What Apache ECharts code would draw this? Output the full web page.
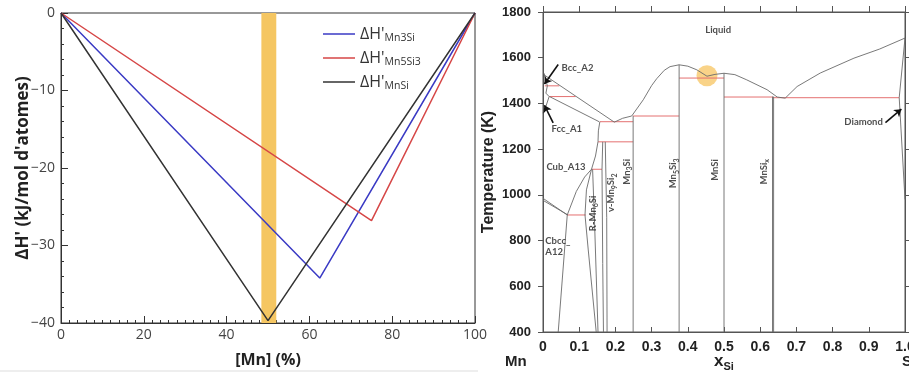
<!DOCTYPE html>
<html><head><meta charset="utf-8">
<script src="https://cdn.jsdelivr.net/npm/echarts@6/dist/echarts.min.js"></script>
<style>html,body{margin:0;padding:0;background:#fff}#c{width:909px;height:374px}</style>
</head><body><div id="c"></div>
<script>
// ---------- LEFT CHART DATA ----------
const leftSeriesNames = ['Mn3Si', 'Mn5Si3', 'MnSi'];
const mn3siPts  = [[0, 0], [62.5, -34.2], [100, 0]];
const mn5si3Pts = [[0, 0], [75, -26.8], [100, 0]];
const mnsiPts   = [[0, 0], [50, -39.7], [100, 0]];
const bandRange = [48.4, 52.0];
const leftXTicks = [0, 20, 40, 60, 80, 100];
const leftYTicks = [-40, -30, -20, -10, 0];

// ---------- RIGHT CHART DATA (x_Si, T in K) ----------
const rightXTicks = [0, 0.1, 0.2, 0.3, 0.4, 0.5, 0.6, 0.7, 0.8, 0.9, 1.0];
const rightYTicks = [400, 600, 800, 1000, 1200, 1400, 1600, 1800];

const liquidusMn   = [[0.003, 1525], [0.197, 1318]];
const solidusFcc   = [[0.018, 1430], [0.155, 1320]];
const liquidusMid  = [[0.197, 1318], [0.22, 1335], [0.245, 1345], [0.277, 1416], [0.3, 1478], [0.314, 1508], [0.335, 1545], [0.351, 1561], [0.376, 1569], [0.4, 1563], [0.425, 1547], [0.453, 1519], [0.475, 1527], [0.5, 1532], [0.53, 1526], [0.563, 1503], [0.619, 1460], [0.647, 1428], [0.669, 1423]];
const liquidusSi   = [[0.669, 1423], [0.702, 1474], [0.766, 1533], [0.859, 1598], [0.93, 1638], [1.0, 1686]];
const bccLens      = [[0.003, 1532], [0.012, 1477], [0.008, 1445], [0.017, 1430], [0.008, 1387], [0, 1357]];
const boxLeft      = [[0.157, 1320], [0.153, 1280], [0.152, 1233]];
const cubCbccA     = [[0, 985], [0.067, 912]];
const cubCbccB     = [[0, 976], [0.069, 912]];
const cbccSolvus   = [[0.042, 400], [0.067, 912]];
const cubRight     = [[0.067, 912], [0.092, 1015], [0.115, 1078], [0.134, 1112], [0.145, 1170], [0.152, 1233]];
const rLensLeft    = [[0.134, 1112], [0.12, 1022], [0.116, 912], [0.125, 759], [0.147, 400]];
const rLensRight   = [[0.137, 1112], [0.143, 850], [0.152, 400]];
const vLeft        = [[0.165, 1232], [0.163, 1112], [0.165, 700], [0.167, 400]];
const vRight       = [[0.172, 1232], [0.176, 900], [0.177, 400]];
const mn3siLine    = [[0.249, 1345], [0.249, 400]];
const mn5si3Line   = [[0.376, 1569], [0.376, 400]];
const mnsiLine     = [[0.5, 1532], [0.5, 400]];
const mnsixLineA   = [[0.634, 1430], [0.634, 400]];
const mnsixLineB   = [[0.637, 1430], [0.637, 400]];
const siSolidus    = [[1.0, 1686], [0.984, 1425], [1.0, 980]];

const redLines = [
  [[0.005, 1477], [0.045, 1477]],
  [[0.017, 1430], [0.09, 1430]],
  [[0.157, 1320], [0.249, 1320]],
  [[0.152, 1232], [0.249, 1232]],
  [[0.249, 1345], [0.376, 1345]],
  [[0.067, 912], [0.118, 912]],
  [[0.134, 1112], [0.163, 1112]],
  [[0.376, 1511], [0.5, 1511]],
  [[0.5, 1428], [0.635, 1428]],
  [[0.635, 1425], [0.984, 1425]]
];
const grayLines = [liquidusMn, solidusFcc, liquidusMid, liquidusSi, bccLens, boxLeft, cubCbccA, cubCbccB,
  cbccSolvus, cubRight, rLensLeft, rLensRight, vLeft, vRight, mn3siLine, mn5si3Line, mnsiLine,
  mnsixLineA, mnsixLineB, siSolidus];

const arrows = [
  [[0.042, 1570], [0.004, 1485]],
  [[0.028, 1315], [0.004, 1392]],
  [[0.946, 1316], [0.99, 1375]]
];
const highlightPoint = [0.453, 1521];

// [x, T, text, rotate, anchor]
const phaseLabels = [
  [0.484, 1722, 'Liquid', 0, 'c'],
  [0.05, 1556, 'Bcc_A2', 0, 'l'],
  [0.022, 1288, 'Fcc_A1', 0, 'l'],
  [0.008, 1121, 'Cub_A13', 0, 'l'],
  [0.005, 799, 'Cbcc_', 0, 'l'],
  [0.005, 750, 'A12', 0, 'l'],
  [0.831, 1320, 'Diamond', 0, 'l'],
  [0.1385, 919, 'R-Mn{s|6}Si', 90, 'c'],
  [0.189, 1009, 'v-Mn{s|9}Si{s|2}', 90, 'c'],
  [0.231, 1101, 'Mn{s|3}Si', 90, 'c'],
  [0.36, 1094, 'Mn{s|5}Si{s|3}', 90, 'c'],
  [0.4756, 1109, 'MnSi', 90, 'c'],
  [0.611, 1101, 'MnSi{s|x}', 90, 'c']
];

// ---------- BUILD ----------
const chart = echarts.init(document.getElementById('c'), null, {renderer: 'canvas', width: 909, height: 374});
const leftColors = ['#3a3ac4', '#d64646', '#333333'];
const leftData = [mn3siPts, mn5si3Pts, mnsiPts];
const TL = '#333';
const TR = '#555';
const phaseRich = {
  s: {fontSize: 7, fontFamily: 'Lato', fontWeight: 'bold', color: '#222', verticalAlign: 'bottom', lineHeight: 13}
};

const series = [];
series.push({
  type: 'line', xAxisIndex: 0, yAxisIndex: 0, data: [], z: 1, silent: true,
  markArea: {silent: true, itemStyle: {color: '#F5C662'}, data: [[{xAxis: bandRange[0]}, {xAxis: bandRange[1]}]]}
});
leftSeriesNames.forEach((n, i) => series.push({
  name: n, type: 'line', xAxisIndex: 0, yAxisIndex: 0, data: leftData[i], symbol: 'none', z: 3,
  lineStyle: {color: leftColors[i], width: 1.5}, itemStyle: {color: leftColors[i]}
}));
series.push({
  type: 'scatter', xAxisIndex: 1, yAxisIndex: 1, data: [highlightPoint], symbolSize: 21, z: 1,
  itemStyle: {color: 'rgba(246,190,80,0.85)'}, silent: true
});
series.push({
  type: 'lines', coordinateSystem: 'cartesian2d', xAxisIndex: 1, yAxisIndex: 1, polyline: true, z: 3,
  data: grayLines.map(c => ({coords: c})), lineStyle: {color: '#6a6a6a', width: 0.9, opacity: 1}, silent: true
});
series.push({
  type: 'lines', coordinateSystem: 'cartesian2d', xAxisIndex: 1, yAxisIndex: 1, polyline: true, z: 2,
  data: redLines.map(c => ({coords: c})), lineStyle: {color: '#e47070', width: 1, opacity: 1}, silent: true
});
series.push({
  type: 'lines', coordinateSystem: 'cartesian2d', xAxisIndex: 1, yAxisIndex: 1, z: 4,
  symbol: ['none', 'arrow'], symbolSize: 7,
  data: arrows.map(c => ({coords: c})), lineStyle: {color: '#111', width: 1.6, opacity: 1}, silent: true
});
series.push({
  type: 'scatter', xAxisIndex: 1, yAxisIndex: 1, symbolSize: 1, itemStyle: {color: 'rgba(0,0,0,0)'}, z: 5, silent: true,
  data: phaseLabels.map(l => ({
    value: [l[0], l[1]],
    label: {
      show: true, formatter: l[2], rotate: l[3],
      position: l[4] === 'l' ? 'right' : 'inside', distance: 0,
      fontSize: 9.5, fontFamily: 'Lato', fontWeight: 'bold', color: '#222', lineHeight: 13, rich: phaseRich
    }
  }))
});

const option = {
  animation: false,
  backgroundColor: '#fff',
  grid: [
    {left: 61, top: 13, width: 414, height: 310, show: true, borderColor: '#333', borderWidth: 1, outerBoundsMode: 'none', containLabel: false},
    {left: 543, top: 12, width: 362, height: 320, show: true, borderColor: '#555', borderWidth: 1, outerBoundsMode: 'none', containLabel: false}
  ],
  legend: {
    data: leftSeriesNames, orient: 'vertical', left: 318, top: 21, itemWidth: 32, itemHeight: 12, itemGap: 6,
    icon: 'path://M0,0H32V1.5H0Z',
    formatter: n => '{a|ΔH\'}{b|' + n + '}',
    textStyle: {
      rich: {
        a: {fontSize: 16, fontFamily: 'Open Sans', color: '#333', lineHeight: 20},
        b: {fontSize: 10.5, fontFamily: 'Open Sans', color: '#333', lineHeight: 20, verticalAlign: 'bottom'}
      }
    }
  },
  xAxis: [
    {
      gridIndex: 0, type: 'value', min: 0, max: 100, interval: 20,
      axisLine: {show: true, onZero: false, lineStyle: {color: '#333', width: 1}},
      axisTick: {show: true, inside: true, length: 7, lineStyle: {color: TL, width: 1}},
      minorTick: {show: true, splitNumber: 10, length: 3, lineStyle: {color: TL, width: 1}},
      splitLine: {show: false},
      axisLabel: {show: true, color: '#444', fontSize: 14, fontFamily: 'Open Sans', margin: 5},
      name: '[Mn] (%)', nameLocation: 'middle', nameGap: 29, nameMoveOverlap: false,
      nameTextStyle: {fontWeight: 'bold', fontSize: 16, color: '#222', fontFamily: 'Open Sans'}
    },
    {
      gridIndex: 1, type: 'value', min: 0, max: 1, interval: 0.1,
      axisLine: {show: true, onZero: false, lineStyle: {color: '#555', width: 1}},
      axisTick: {show: true, inside: true, length: 5, lineStyle: {color: TR, width: 1}},
      splitLine: {show: false},
      axisLabel: {show: true, color: '#222', fontSize: 14, fontWeight: 'bold', fontFamily: 'Liberation Sans', margin: 8,
        formatter: v => v === 1 ? '1.0' : String(Math.round(v * 10) / 10)},
      name: '{x|x}{s|Si}', nameLocation: 'middle', nameGap: 18, nameMoveOverlap: false,
      nameTextStyle: {rich: {
        x: {fontSize: 17, fontWeight: 'bold', fontFamily: 'Liberation Sans', color: '#222', lineHeight: 22},
        s: {fontSize: 11, fontWeight: 'bold', fontFamily: 'Liberation Sans', color: '#222', lineHeight: 22, verticalAlign: 'bottom'}
      }}
    },
    {
      gridIndex: 1, type: 'value', position: 'top', min: 0, max: 1, interval: 0.1,
      axisLine: {show: true, onZero: false, lineStyle: {color: '#555'}},
      axisTick: {show: true, inside: false, length: 6, lineStyle: {color: TR, width: 1}},
      axisLabel: {show: false}, splitLine: {show: false}
    }
  ],
  yAxis: [
    {
      gridIndex: 0, type: 'value', min: -40, max: 0, interval: 10,
      axisLine: {show: true, onZero: false, lineStyle: {color: '#333', width: 1}},
      axisTick: {show: true, inside: true, length: 7, lineStyle: {color: TL, width: 1}},
      minorTick: {show: true, splitNumber: 5, length: 3, lineStyle: {color: TL, width: 1}},
      splitLine: {show: false},
      axisLabel: {show: true, color: '#444', fontSize: 14, fontFamily: 'Open Sans', margin: 6,
        formatter: v => v === 0 ? '0' : '\u2212' + Math.abs(v)},
      name: 'ΔH\' (kJ/mol d\'atomes)', nameLocation: 'middle', nameGap: 29, nameRotate: 90, nameMoveOverlap: false,
      nameTextStyle: {fontWeight: 'bold', fontSize: 17, color: '#222', fontFamily: 'Open Sans'}
    },
    {
      gridIndex: 1, type: 'value', min: 400, max: 1800, interval: 200,
      axisLine: {show: true, onZero: false, lineStyle: {color: '#555'}},
      axisTick: {show: true, inside: false, length: 5, lineStyle: {color: TR, width: 1}},
      splitLine: {show: false},
      axisLabel: {show: true, color: '#222', fontSize: 13, fontWeight: 'bold', fontFamily: 'Liberation Sans', margin: 12,
        formatter: v => String(v)},
      name: 'Temperature (K)', nameLocation: 'middle', nameGap: 46, nameRotate: 90, nameMoveOverlap: false,
      nameTextStyle: {fontWeight: 'bold', fontSize: 16, color: '#222', fontFamily: 'Liberation Sans'}
    },
    {
      gridIndex: 1, type: 'value', position: 'right', min: 400, max: 1800, interval: 200,
      axisLine: {show: true, onZero: false, lineStyle: {color: '#555'}},
      axisTick: {show: true, inside: false, length: 5, lineStyle: {color: TR, width: 1}},
      axisLabel: {show: false}, splitLine: {show: false}
    }
  ],
  graphic: [
    {type: 'text', left: 505, top: 354, style: {text: 'Mn', fontSize: 15, fontWeight: 'bold', fontFamily: 'Liberation Sans', fill: '#222'}},
    {type: 'text', left: 902, top: 354, style: {text: 'Si', fontSize: 15, fontWeight: 'bold', fontFamily: 'Liberation Sans', fill: '#222'}},
    {type: 'line', shape: {x1: 0, y1: 371, x2: 478, y2: 371}, style: {stroke: '#ddd', lineWidth: 1}}
  ],
  series: series
};
chart.setOption(option);
</script>
</body></html>
